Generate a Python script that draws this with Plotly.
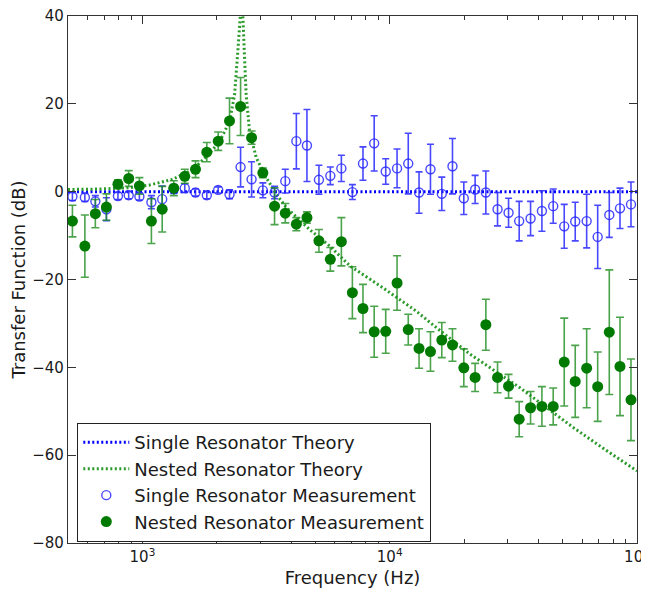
import plotly.graph_objects as go

# Measurement frequencies (Hz)
freq = [521, 585, 645, 715, 796, 880, 972, 1087, 1202, 1339, 1483, 1639, 1821, 2025,
        2250, 2494, 2763, 3069, 3422, 3782, 4192, 4627, 5173, 5752, 6375, 7063, 7796,
        8654, 9634, 10706, 11883, 13141, 14615, 16239, 17940, 19935, 22149, 24476,
        27291, 30240, 33385, 37118, 41248, 45830, 50782, 56260, 62580, 69340, 77260,
        85350, 94560]

single_meas = [-1.1, -1.3, -2.2, -4.0, -1.0, -0.8, -1.1, -2.4, -1.7, 0.6, 0.8, -0.2, -0.8,
               0.4, -0.6, 5.6, 2.8, 0.3, -0.2, 2.4, 11.5, 10.5, 2.7, 3.6, 5.3, -0.1, 6.4,
               11.0, 4.6, 5.3, 6.4, -0.2, 5.1, -0.5, 5.8, -1.5, 0.5, -0.2, -4.0, -4.8,
               -6.7, -6.1, -4.4, -3.3, -7.9, -6.8, -6.7, -10.3, -5.3, -3.8, -2.9]
single_err = [0.9, 0.9, 1.3, 2.6, 0.8, 0.8, 0.8, 1.5, 3.0, 1.0, 1.0, 0.8, 0.8,
              0.7, 1.0, 4.5, 4.0, 1.7, 1.4, 2.7, 6.3, 8.2, 3.3, 2.0, 3.0, 1.7, 3.8,
              6.3, 2.9, 4.4, 6.9, 4.7, 5.7, 3.8, 6.3, 3.7, 3.2, 4.9, 3.8, 3.3,
              4.5, 3.9, 4.6, 3.9, 5.0, 4.4, 6.1, 7.2, 5.1, 4.6, 5.1]

nested_meas = [-6.7, -12.4, -5.0, -3.5, 1.7, 3.0, 1.3, -6.7, -4.0, 0.8, 3.5, 5.1, 9.0,
               11.5, 16.1, 19.4, 12.3, 4.3, -3.3, -4.9, -7.4, -5.9, -11.2, -15.4, -11.4,
               -23.0, -26.6, -31.9, -31.8, -20.8, -31.4, -35.7, -36.4, -33.8, -34.9,
               -40.1, -42.3, -30.3, -42.3, -44.3, -51.8, -49.2, -48.9, -48.9, -38.8,
               -43.2, -40.2, -44.4, -32.0, -39.8, -47.4]
nested_err = [3.6, 7.1, 3.2, 3.0, 1.0, 1.8, 1.9, 5.1, 5.2, 1.7, 1.6, 1.9, 2.2,
              2.1, 5.2, 6.6, 1.5, 1.1, 4.2, 2.2, 1.5, 1.3, 2.6, 2.7, 5.5,
              5.9, 5.5, 5.8, 5.0, 6.2, 3.5, 4.5, 4.5, 4.0, 3.7,
              4.3, 3.2, 5.8, 3.5, 2.7, 4.0, 3.7, 4.5, 4.2, 10.0,
              8.2, 9.0, 7.9, 14.2, 11.2, 9.3]

# Theory curves
single_theory_f = [500, 100000]
single_theory_db = [0, 0]

nested_theory_f = [500, 670, 886, 1067, 1323, 1594, 1816, 2049, 2250, 2358, 2431, 2487,
                   2516, 2547, 2590, 2627, 2710, 2887, 3170, 3477, 3818, 4738, 5722,
                   6904, 9389, 12800, 15470, 21110, 33540, 55220, 75480, 100000]
nested_theory_db = [0.5, 0.6, 0.9, 1.5, 2.8, 5.0, 8.0, 11.3, 16.0, 22.0, 32.0, 40.0,
                    55.0, 40.0, 30.0, 22.2, 13.8, 7.7, 3.2, -0.6, -3.6, -8.6, -12.4,
                    -16.9, -21.9, -27.2, -31.0, -37.0, -44.6, -53.7, -59.0, -63.6]

x_tickvals = [1000, 10000, 100000]
x_ticktext = ["10<sup>3</sup>", "10<sup>4</sup>", "10<sup>5</sup>"]
x_minor_tickvals = [600, 700, 800, 900, 2000, 3000, 4000, 5000, 6000, 7000, 8000, 9000,
                    20000, 30000, 40000, 50000, 60000, 70000, 80000, 90000]
y_tickvals = [-80, -60, -40, -20, 0, 20, 40]

FONT = "DejaVu Sans"
fig = go.Figure()

fig.add_trace(go.Scatter(
    x=single_theory_f, y=single_theory_db, mode="lines",
    name="Single Resonator Theory",
    line=dict(color="#0000ff", width=3, dash="2px,2.5px")))
fig.add_trace(go.Scatter(
    x=nested_theory_f, y=nested_theory_db, mode="lines",
    name="Nested Resonator Theory",
    line=dict(color="#2a9a2a", width=3, dash="2px,2.5px")))
fig.add_trace(go.Scatter(
    x=freq, y=single_meas, mode="markers",
    name="Single Resonator Measurement",
    marker=dict(symbol="circle-open", size=9, color="rgba(40,40,255,0.85)",
                line=dict(width=1.4, color="rgba(40,40,255,0.85)")),
    error_y=dict(type="data", array=single_err, color="rgba(40,40,255,0.85)",
                 thickness=1.6, width=3.5)))
fig.add_trace(go.Scatter(
    x=freq, y=nested_meas, mode="markers",
    name="Nested Resonator Measurement",
    marker=dict(symbol="circle", size=11, color="#007a00"),
    error_y=dict(type="data", array=nested_err, color="rgba(30,140,30,0.8)",
                 thickness=1.6, width=4)))

# The page body adds an 8px offset, so the figure is sized to fill the rest of the window.
fig.update_layout(
    width=641, height=582,
    margin=dict(l=60, r=12, t=8, b=47),
    paper_bgcolor="white", plot_bgcolor="white",
    font=dict(family=FONT, size=15, color="#1a1a1a"),
    showlegend=True,
    legend=dict(x=0.0158, y=0.228, xanchor="left", yanchor="top",
                bordercolor="#222", borderwidth=1.3, bgcolor="white",
                font=dict(family=FONT, size=18, color="#1a1a1a"),
                tracegroupgap=0, itemwidth=46),
    xaxis=dict(type="log", range=[2.69897, 5], automargin=False,
               tickvals=x_tickvals, ticktext=x_ticktext, ticklabeloverflow="allow",
               ticks="inside", ticklen=8, tickwidth=1, tickcolor="#333",
               showline=True, linecolor="#333", linewidth=1.3, mirror="allticks",
               showgrid=False, zeroline=False,
               minor=dict(tickmode="array", tickvals=x_minor_tickvals, ticks="inside",
                          ticklen=4, tickcolor="#333", showgrid=False),
               title=dict(text="Frequency (Hz)", font=dict(family=FONT, size=18), standoff=6),
               tickfont=dict(family=FONT, size=15)),
    yaxis=dict(range=[-80, 40], tickvals=y_tickvals, automargin=False,
               ticklabeloverflow="allow",
               ticks="inside", ticklen=8, tickwidth=1, tickcolor="#333",
               showline=True, linecolor="#333", linewidth=1.3, mirror="allticks",
               showgrid=False, zeroline=False,
               title=dict(text="Transfer Function (dB)", font=dict(family=FONT, size=18), standoff=6),
               tickfont=dict(family=FONT, size=15)),
)

fig.write_html("out.html")
